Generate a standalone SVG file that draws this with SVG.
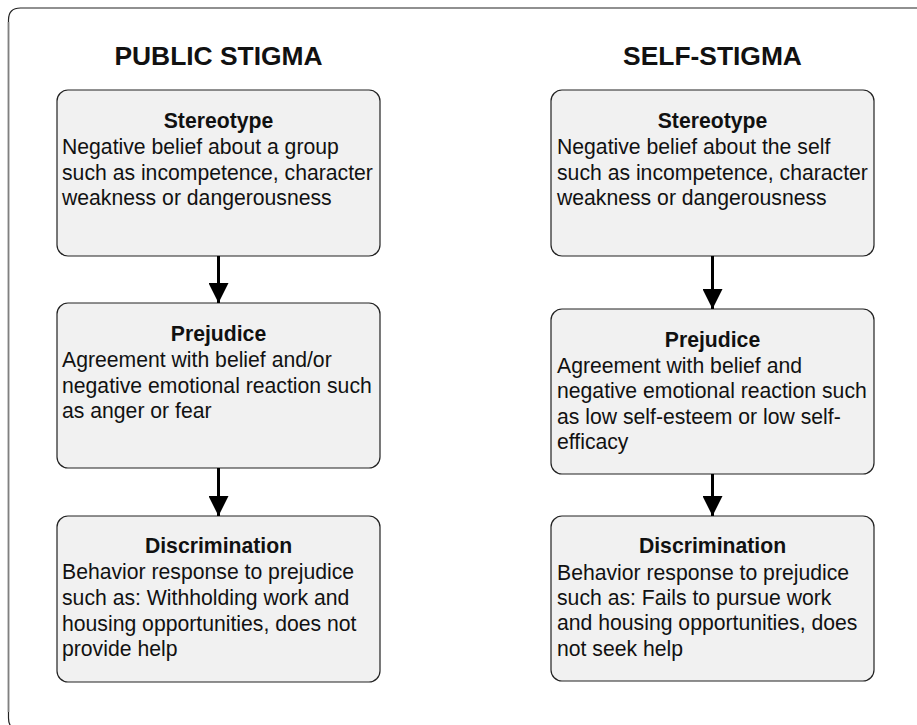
<svg xmlns="http://www.w3.org/2000/svg" width="917" height="725" viewBox="0 0 917 725">
<style>
.box{fill:#f1f1f1;stroke:#222;stroke-width:1.2}
.hdr{font-family:"Liberation Sans",Arial,sans-serif;font-weight:bold;font-size:26.4px;fill:#111;text-anchor:middle}
.ttl{font-family:"Liberation Sans",Arial,sans-serif;font-weight:bold;font-size:21.2px;fill:#111;text-anchor:middle}
.txt{font-family:"Liberation Sans",Arial,sans-serif;font-size:21.2px;fill:#111}
.con{stroke:#000;stroke-width:3;fill:none}
</style>
<defs>
<marker id="arr" markerUnits="userSpaceOnUse" markerWidth="20" markerHeight="20" viewBox="0 0 20 20" refX="20" refY="10" orient="auto">
<path d="M0,0 L20,10 L0,20 Z" fill="#000"/>
</marker>
</defs>
<rect width="917" height="725" fill="#fff"/>
<g id="frame">
<path d="M20.5,730 Q8.5,730 8.5,718 L8.5,20 Q8.5,8 20.5,8 L930,8" fill="none" stroke="#222" stroke-width="1.2"/>
<path d="M8.5,712 L8.5,22" fill="none" stroke="#808080" stroke-width="1.6"/>
</g>
<text class="hdr" x="218.5" y="65">PUBLIC STIGMA</text>
<text class="hdr" x="712.5" y="65">SELF-STIGMA</text>
<g id="pub-stereotype">
<rect class="box" x="57" y="90" width="323" height="166" rx="11"/>
<text class="ttl" x="218.5" y="128">Stereotype</text>
<text class="txt" x="62" y="154">Negative belief about a group</text>
<text class="txt" x="62" y="180">such as incompetence, character</text>
<text class="txt" x="62" y="205">weakness or dangerousness</text>
</g>
<g id="pub-prejudice">
<rect class="box" x="57" y="303" width="323" height="165" rx="11"/>
<text class="ttl" x="218.5" y="341">Prejudice</text>
<text class="txt" x="62" y="367">Agreement with belief and/or</text>
<text class="txt" x="62" y="393">negative emotional reaction such</text>
<text class="txt" x="62" y="418">as anger or fear</text>
</g>
<g id="pub-discrimination">
<rect class="box" x="57" y="516" width="323" height="166" rx="11"/>
<text class="ttl" x="218.5" y="553">Discrimination</text>
<text class="txt" x="62" y="579">Behavior response to prejudice</text>
<text class="txt" x="62" y="605">such as: Withholding work and</text>
<text class="txt" x="62" y="631">housing opportunities, does not</text>
<text class="txt" x="62" y="656">provide help</text>
</g>
<g id="self-stereotype">
<rect class="box" x="551" y="90" width="323" height="166" rx="11"/>
<text class="ttl" x="712.5" y="128">Stereotype</text>
<text class="txt" x="557" y="154">Negative belief about the self</text>
<text class="txt" x="557" y="180">such as incompetence, character</text>
<text class="txt" x="557" y="205">weakness or dangerousness</text>
</g>
<g id="self-prejudice">
<rect class="box" x="551" y="309" width="323" height="165" rx="11"/>
<text class="ttl" x="712.5" y="347">Prejudice</text>
<text class="txt" x="557" y="373">Agreement with belief and</text>
<text class="txt" x="557" y="398">negative emotional reaction such</text>
<text class="txt" x="557" y="424">as low self-esteem or low self-</text>
<text class="txt" x="557" y="449">efficacy</text>
</g>
<g id="self-discrimination">
<rect class="box" x="551" y="516" width="323" height="165" rx="11"/>
<text class="ttl" x="712.5" y="553">Discrimination</text>
<text class="txt" x="557" y="580">Behavior response to prejudice</text>
<text class="txt" x="557" y="605">such as: Fails to pursue work</text>
<text class="txt" x="557" y="630">and housing opportunities, does</text>
<text class="txt" x="557" y="656">not seek help</text>
</g>
<g id="connectors">
<line class="con" x1="218.5" y1="256" x2="218.5" y2="303" marker-end="url(#arr)"/>
<line class="con" x1="218.5" y1="468" x2="218.5" y2="516" marker-end="url(#arr)"/>
<line class="con" x1="712.5" y1="256" x2="712.5" y2="309" marker-end="url(#arr)"/>
<line class="con" x1="712.5" y1="474" x2="712.5" y2="516" marker-end="url(#arr)"/>
</g>
</svg>
